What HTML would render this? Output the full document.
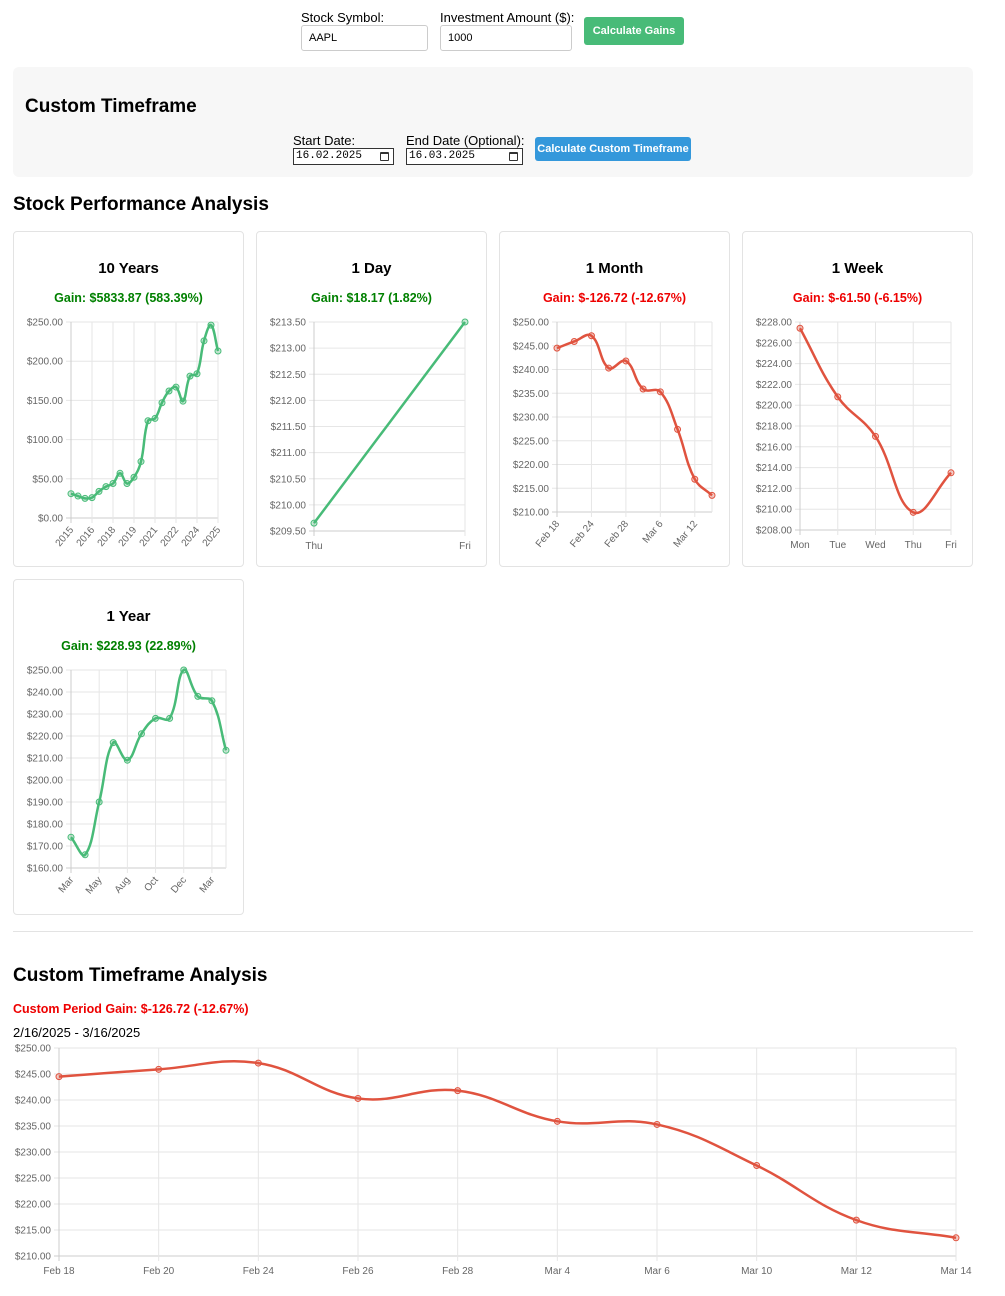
<!DOCTYPE html>
<html><head><meta charset="utf-8">
<style>
*{box-sizing:border-box}
body{margin:0;width:1005px;height:1296px;position:relative;font-family:"Liberation Sans",Arial,sans-serif;background:#fff;color:#000;overflow:hidden}
.abs{position:absolute}
.lbl{font-size:13px}
.inp{position:absolute;border:1px solid #ccc;border-radius:3px;font-size:11px;padding:0 7px;line-height:24px;background:#fff}
.btn{position:absolute;color:#fff;font-size:11px;font-weight:bold;text-align:center;border-radius:3px}
.date{position:absolute;border:1px solid #333;font-family:"Liberation Mono",monospace;font-size:11px;line-height:14px;padding-left:2px;background:#fff}
.date:after{content:"";position:absolute;right:4px;top:3px;width:7px;height:6px;border:1px solid #333;border-top-width:2px;border-radius:1px}
h2{position:absolute;margin:0;font-size:19px;font-weight:bold}
.card{position:absolute;width:231px;border:1px solid #e3e3e3;border-radius:4px;background:#fff}
.ct{position:absolute;left:0;width:100%;text-align:center;font-size:15px;font-weight:bold;top:28px}
.cg{position:absolute;left:0;width:100%;text-align:center;font-size:12.5px;font-weight:bold;top:59px}
svg{position:absolute;left:0;top:0}
</style></head><body>
<div class="abs lbl" style="left:301px;top:10px">Stock Symbol:</div>
<div class="inp" style="left:301px;top:25px;width:127px;height:26px">AAPL</div>
<div class="abs lbl" style="left:440px;top:10px">Investment Amount ($):</div>
<div class="inp" style="left:440px;top:25px;width:132px;height:26px">1000</div>
<div class="btn" style="left:584px;top:17px;width:100px;height:28px;line-height:28px;background:#48bb78">Calculate Gains</div>

<div class="abs" style="left:13px;top:67px;width:960px;height:110px;background:#f7f7f7;border-radius:6px"></div>
<h2 style="left:25px;top:96px">Custom Timeframe</h2>
<div class="abs lbl" style="left:293px;top:133px">Start Date:</div>
<div class="date" style="left:293px;top:148px;width:101px;height:17px">16.02.2025</div>
<div class="abs lbl" style="left:406px;top:133px">End Date (Optional):</div>
<div class="date" style="left:406px;top:148px;width:117px;height:17px">16.03.2025</div>
<div class="btn" style="left:535px;top:137px;width:156px;height:24px;line-height:24px;background:#3498db">Calculate Custom Timeframe</div>

<h2 style="left:13px;top:194px">Stock Performance Analysis</h2>

<div class="card" style="left:13px;top:231px;height:336px"><div class="ct">10 Years</div><div class="cg" style="color:#008000">Gain: $5833.87 (583.39%)</div></div>
<div class="card" style="left:256px;top:231px;height:336px"><div class="ct">1 Day</div><div class="cg" style="color:#008000">Gain: $18.17 (1.82%)</div></div>
<div class="card" style="left:499px;top:231px;height:336px"><div class="ct">1 Month</div><div class="cg" style="color:#e00">Gain: $-126.72 (-12.67%)</div></div>
<div class="card" style="left:742px;top:231px;height:336px"><div class="ct">1 Week</div><div class="cg" style="color:#e00">Gain: $-61.50 (-6.15%)</div></div>
<div class="card" style="left:13px;top:579px;height:336px"><div class="ct">1 Year</div><div class="cg" style="color:#008000">Gain: $228.93 (22.89%)</div></div>

<div class="abs" style="left:13px;top:931px;width:960px;height:1px;background:#e3e3e3"></div>
<h2 style="left:13px;top:965px">Custom Timeframe Analysis</h2>
<div class="abs" style="left:13px;top:1002px;font-size:12.5px;font-weight:bold;color:#e00">Custom Period Gain: $-126.72 (-12.67%)</div>
<div class="abs lbl" style="left:13px;top:1025px">2/16/2025 - 3/16/2025</div>

<svg id="charts" width="1005" height="1296"></svg>

<script>
// ---- data ----
const tenYearLabels = ["2015","2015","2015","2016","2016","2017","2018","2018","2018","2019","2019","2020","2021","2021","2021","2022","2023","2023","2024","2024","2024","2025"];
const tenYearValues = [31,28,25,26,34,40,44,57,44,52,72,124,127,147,162,167,149,181,184,226,246,213];
const tenYearTicks = [0,50,100,150,200,250];

const oneDayLabels = ["Thu","Fri"];
const oneDayValues = [209.65,213.5];
const oneDayTicks = [209.5,210,210.5,211,211.5,212,212.5,213,213.5];

const oneMonthLabels = ["Feb 18","Feb 20","Feb 24","Feb 26","Feb 28","Mar 4","Mar 6","Mar 10","Mar 12","Mar 14"];
const oneMonthValues = [244.5,245.9,247.1,240.3,241.8,235.9,235.3,227.4,216.9,213.5];
const oneMonthTicks = [210,215,220,225,230,235,240,245,250];

const oneWeekLabels = ["Mon","Tue","Wed","Thu","Fri"];
const oneWeekValues = [227.4,220.8,217.0,209.7,213.5];
const oneWeekTicks = [208,210,212,214,216,218,220,222,224,226,228];

const oneYearLabels = ["Mar","Apr","May","Jun","Aug","Sep","Oct","Nov","Dec","Jan","Mar","Mar"];
const oneYearValues = [174,166,190,217,209,221,228,228,250,238,236,213.5];
const oneYearTicks = [160,170,180,190,200,210,220,230,240,250];

const customLabels = ["Feb 18","Feb 20","Feb 24","Feb 26","Feb 28","Mar 4","Mar 6","Mar 10","Mar 12","Mar 14"];
const customValues = [244.5,245.9,247.1,240.3,241.8,235.9,235.3,227.4,216.9,213.5];
const customTicks = [210,215,220,225,230,235,240,245,250];

const GREEN="#48bb78", RED="#e0533f";
const NS="http://www.w3.org/2000/svg";
const svg=document.getElementById('charts');
function mk(tag,attrs,parent){const e=document.createElementNS(NS,tag);for(const k in attrs)e.setAttribute(k,attrs[k]);(parent||svg).appendChild(e);return e;}

function spline(pts,t){
  const cps=[];
  for(let i=0;i<pts.length;i++){
    const p=pts[i],prev=pts[i-1]||p,next=pts[i+1]||p;
    const d01=Math.hypot(p.x-prev.x,p.y-prev.y),d12=Math.hypot(next.x-p.x,next.y-p.y);
    let s01=d01/(d01+d12)||0,s12=d12/(d01+d12)||0;
    const fa=t*s01,fb=t*s12;
    cps.push({px:p.x-fa*(next.x-prev.x),py:p.y-fa*(next.y-prev.y),nx:p.x+fb*(next.x-prev.x),ny:p.y+fb*(next.y-prev.y)});
  }
  let d="M"+pts[0].x+","+pts[0].y;
  for(let i=1;i<pts.length;i++){d+=" C"+cps[i-1].nx+","+cps[i-1].ny+" "+cps[i].px+","+cps[i].py+" "+pts[i].x+","+pts[i].y;}
  return d;
}

function chart(name,labels,values,ticks,box,opt){
  const g=mk('g',{});
  
  
  const ymin=ticks[0],ymax=ticks[ticks.length-1];
  const yS=v=>box.b-(v-ymin)/(ymax-ymin)*(box.b-box.t);
  const n=labels.length;
  const xS=i=>box.l+(n>1?i*(box.r-box.l)/(n-1):0);
  ticks.forEach(v=>{
    const y=yS(v);
    mk('line',{x1:box.l-5,x2:box.r,y1:y,y2:y,stroke:v===ymin?'#ccc':'#e6e6e6','stroke-width':1},g);
    const t=mk('text',{x:box.l-8,y:y+3.5,'text-anchor':'end','font-size':10,fill:'#666','font-family':'Liberation Sans, sans-serif'},g);
    t.textContent='$'+v.toFixed(2);
    
    
  });
  labels.forEach((lab,i)=>{
    if(i%opt.every!==0)return;
    const x=xS(i);
    mk('line',{x1:x,x2:x,y1:box.t,y2:box.b+5,stroke:i===0?'#ccc':'#e6e6e6','stroke-width':1},g);
    let t;
    if(opt.rot){
      t=mk('text',{x:x+3,y:box.b+12,'text-anchor':'end','font-size':10,fill:'#666','font-family':'Liberation Sans, sans-serif',transform:`rotate(-50 ${x+3} ${box.b+12})`},g);
    }else{
      t=mk('text',{x:x,y:box.b+18,'text-anchor':'middle','font-size':10,fill:'#666','font-family':'Liberation Sans, sans-serif'},g);
    }
    t.textContent=lab;
    
    
  });
  if((n-1)%opt.every!==0) mk('line',{x1:box.r,x2:box.r,y1:box.t,y2:box.b,stroke:'#e6e6e6'},g);
  const pts=values.map((v,i)=>({x:xS(i),y:yS(v)}));
  const p=mk('path',{d:spline(pts,0.4),fill:'none',stroke:opt.color,'stroke-width':2.5},g);
  
  
  pts.forEach(q=>{
    const c=mk('circle',{cx:q.x,cy:q.y,r:3,fill:opt.color,'fill-opacity':0.3,stroke:opt.color,'stroke-width':1},g);
    
    
  });
}

chart('ten-years-chart',tenYearLabels,tenYearValues,tenYearTicks,{l:71,r:218,t:322,b:518},{every:3,rot:true,color:GREEN});
chart('one-day-chart',oneDayLabels,oneDayValues,oneDayTicks,{l:314,r:465,t:322,b:531},{every:1,rot:false,color:GREEN});
chart('one-month-chart',oneMonthLabels,oneMonthValues,oneMonthTicks,{l:557,r:712,t:322,b:512},{every:2,rot:true,color:RED});
chart('one-week-chart',oneWeekLabels,oneWeekValues,oneWeekTicks,{l:800,r:951,t:322,b:530},{every:1,rot:false,color:RED});
chart('one-year-chart',oneYearLabels,oneYearValues,oneYearTicks,{l:71,r:226,t:670,b:868},{every:2,rot:true,color:GREEN});
chart('custom-timeframe-chart',customLabels,customValues,customTicks,{l:59,r:956,t:1048,b:1256},{every:1,rot:false,color:RED});
</script>
</body></html>
